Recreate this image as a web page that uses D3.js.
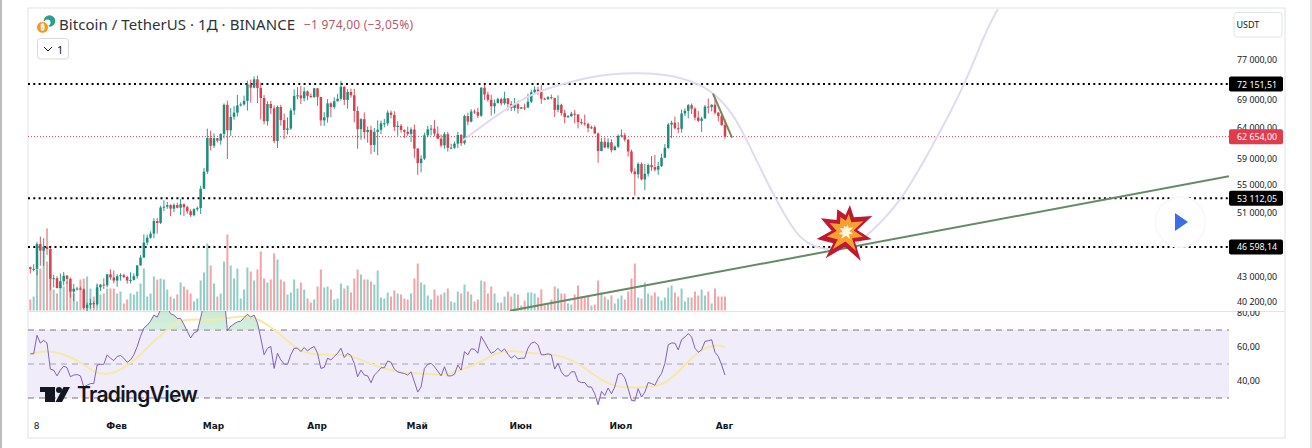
<!DOCTYPE html>
<html>
<head>
<meta charset="utf-8">
<script src="https://cdn.jsdelivr.net/npm/d3@7"></script>
<style>
	body { margin: 0; background: #fff; }
	svg { display: block; }
	text { font-family: "Noto Sans", sans-serif; }
	.axis path, .axis line { display: none; }
</style>
</head>
<body>
<svg id="chart" width="1312" height="448"></svg>
<script>
// one value per day from 6 Jan to 1 Aug, one line per month
const opens = [
	44150,43929,43943,46970,46139,46628,46340,42782,42847,41732,42511,43137,42776,41327,41659,41680,41591,39568,39897,40085,39961,41816,42120,42035,43302,42941,
	42580,43082,43200,42989,42583,42658,43084,44338,45293,47147,47771,48293,49958,49699,51795,51911,52126,51642,52137,51774,52258,51849,51288,50744,51568,51728,54476,57037,62432,
	61130,62387,61987,63113,68245,63724,66074,66823,68124,68313,68955,72078,71452,73072,71388,69499,65300,68393,67609,61937,67840,65501,63797,64037,67211,69880,69988,69455,70744,69892,69645,
	71333,69702,65446,65980,68508,67837,68896,69360,71620,69146,70631,70006,67116,63924,65661,63419,63793,61277,63470,63818,64941,64941,66819,66414,64289,64498,63770,63461,63118,63866,
	60672,58364,59060,62882,63892,64012,63165,62312,61193,63074,60799,60825,61483,62937,61552,66206,65235,67024,66915,66274,71446,70148,69166,67969,68549,69290,68507,69436,68398,67652,68352,
	67540,67766,67765,68809,70568,71082,70757,69355,69310,69648,69508,67321,68243,66747,66006,66191,66639,66490,65140,64960,64828,64096,64245,63180,60277,61806,60864,61706,60427,60986,
	62772,62899,62135,60208,57050,56628,58230,55857,56714,58050,57725,57339,57889,59204,60797,64724,65043,64087,63987,66660,67139,68165,67532,65936,65372,65777,67912,67813,68255,66819,66201,
	64628
];
const highs = [
	44200,44500,47250,47900,47700,48970,46500,43250,43080,43400,43580,43200,42930,42200,41870,41890,41680,40130,40550,40300,42250,42200,42840,43300,43880,43740,
	43300,43420,43380,43120,43540,43400,44370,45590,48200,48170,48590,50330,50370,52040,52820,52570,52250,52370,52480,52985,52370,52060,51550,51700,51960,54900,57590,64000,63680,
	63170,62430,63230,68500,69000,67640,67980,70080,68670,69940,72800,73000,73650,73777,72420,70040,68900,68957,68125,68100,68240,66650,65970,67620,71150,71560,71770,71550,70910,70355,71370,
	71370,69700,66910,69290,68725,69630,70285,72800,71760,71170,71280,71230,67930,65840,66870,64365,64500,64125,65450,65420,65700,67230,67200,67070,65300,64790,63900,64370,64230,64730,
	60780,59600,63320,64500,64650,65500,64390,63020,63420,63470,61490,61820,63450,63100,66450,66800,67450,67400,67700,71515,71980,70670,70100,69220,69560,69560,70690,69500,68920,69500,69020,
	67860,68460,70290,71060,71760,71650,71990,69580,69850,70150,69560,69990,68450,67300,66400,66980,67300,66560,65730,66480,65060,64520,64550,63370,62430,62480,62370,62230,61200,63060,
	63860,63290,62285,60500,57550,58475,58470,58240,58300,59470,59650,58530,59850,61420,65000,65390,66130,65130,67390,67600,68380,68480,67810,67100,66100,68200,69400,68320,70080,66950,66830,
	65600
];
const lows = [
	43400,43650,43200,44300,44300,45600,41500,41800,41700,41700,42050,42200,40680,40280,41450,41500,39430,38555,39480,39540,39820,41400,41620,41800,42680,42270,
	41880,42570,42880,42220,42260,42580,42790,44330,45240,46800,47630,47720,48300,49560,51315,51625,50620,51170,51680,50760,50625,50930,50520,50590,51280,50900,54450,56690,60360,
	60770,61660,61320,62360,59000,62780,65550,66130,67920,68100,67190,68620,71330,68555,65600,64780,64550,66570,61555,60775,64530,62260,63000,63790,66385,69280,68380,68900,69080,69570,69560,
	68060,64500,64490,65060,66010,67490,68850,69040,68210,67520,69560,65090,60660,62135,62270,61640,59770,60100,59600,63080,64230,64500,65810,63600,62800,63320,62400,62780,61760,59190,
	56550,56940,58850,62560,62850,62700,62280,60880,60630,60190,60630,60630,60750,61100,61320,64600,65100,66600,65860,66060,69160,68800,66300,66620,68500,68100,68250,67200,67100,67130,66670,
	67440,67260,67610,68570,70380,70120,68420,69150,69130,69230,66050,66900,66300,64960,65870,66060,64940,64060,64690,64500,63380,63940,63200,58400,60240,60710,60630,60060,60360,60770,
	62500,61800,59400,56770,53485,56020,55725,54260,56290,57160,57050,56540,57770,59200,60630,62400,63900,63220,63300,66220,65800,66570,65440,65120,63440,65750,66650,67060,66480,65300,64530,
	62300
];
const closes = [
	43929,43943,46970,46139,46628,46340,42782,42847,41732,42511,43137,42776,41327,41659,41680,41591,39568,39897,40085,39961,41816,42120,42035,43302,42941,42580,
	43082,43200,42989,42583,42658,43084,44338,45293,47147,47771,48293,49958,49699,51795,51911,52126,51642,52137,51774,52258,51849,51288,50744,51568,51728,54476,57037,62432,61130,
	62387,61987,63113,68245,63724,66074,66823,68124,68313,68955,72078,71452,73072,71388,69499,65300,68393,67609,61937,67840,65501,63797,64037,67211,69880,69988,69455,70744,69892,69645,71333,
	69702,65446,65980,68508,67837,68896,69360,71620,69146,70631,70006,67116,63924,65661,63419,63793,61277,63470,63818,64941,64941,66819,66414,64289,64498,63770,63461,63118,63866,60672,
	58364,59060,62882,63892,64012,63165,62312,61193,63074,60799,60825,61483,62937,61552,66206,65235,67024,66915,66274,71446,70148,69166,67969,68549,69290,68507,69436,68398,67652,68352,67540,
	67766,67765,68809,70568,71082,70757,69355,69310,69648,69508,67321,68243,66747,66006,66191,66639,66490,65140,64960,64828,64096,64245,63180,60277,61806,60864,61706,60427,60986,62772,
	62899,62135,60208,57050,56628,58230,55857,56714,58050,57725,57339,57889,59204,60797,64724,65043,64087,63987,66660,67139,68165,67532,65936,65372,65777,67912,67813,68255,66819,66201,64619,
	62654
];
const volumes = [
	11,14,41,42,64,49,37,21,17,26,24,29,27,17,9,31,32,34,22,14,26,16,17,22,22,22,
	17,19,7,11,17,16,19,27,42,14,17,34,31,32,31,21,14,12,16,28,24,21,17,9,12,30,38,67,45,
	27,14,17,49,76,45,32,42,12,21,43,39,30,41,59,32,28,31,57,51,31,29,16,18,31,22,28,21,12,8,11,
	24,41,23,24,21,11,12,27,22,25,18,32,41,36,31,31,29,26,40,13,12,18,14,20,17,16,12,11,17,32,
	47,28,26,15,11,21,15,16,18,22,9,8,19,17,26,19,16,9,11,30,29,17,24,17,8,8,14,19,14,17,16,
	5,10,18,18,17,13,21,5,6,11,24,22,17,17,7,6,16,25,14,13,14,5,6,30,18,14,11,15,7,12,
	15,11,19,32,47,13,12,28,17,15,18,14,10,13,23,25,18,14,22,9,13,13,19,15,21,15,19,7,22,14,14,
	14
];
const rsi = [
	56,56,66.9,62.3,63.9,62.3,47,46.4,43,46.4,48.8,47.8,42.5,43.5,43.8,43,36.5,37.5,38.5,38.5,49.4,49.8,49.8,55.4,53.4,52,
	54.4,55,53.4,51,52.4,55.4,60.3,66.3,71.2,72.8,75.2,78.8,77.6,82.1,84,83.1,79.6,78.8,76.8,76.8,73.2,69.2,65.3,68.3,69.2,77.2,86,90,87,
	88,87,88,91,69.6,72.2,73.6,74.8,75.2,77.2,79.2,77.6,78.8,74.2,65.3,55.4,59.3,60.3,47.4,56.3,52.4,50,49.8,55.4,59.3,59.3,57.3,59.7,57.7,59.3,60.3,
	56.3,47.4,48,53.4,52.4,54.4,56.3,59.3,53.8,56.3,55,50.4,42.5,46.4,43.5,43,39,43.5,45.4,47.8,47.8,51.8,51,47,45.4,44.8,44.4,43.5,45.4,39.5,
	33.5,36.5,47.4,49.8,50.4,48.4,45.8,43,48.4,43,43,44,49.4,46.4,57.3,55.4,58.9,58.7,56.3,66.3,62.9,59.3,56.3,57.3,59.3,57.3,58.9,55.8,53.4,55,53,
	53.4,53.4,59.3,62.3,62.9,61.3,55.4,55.4,56,55.4,47,50.4,45.4,42.9,43,45.4,45.4,39.9,39.1,39.1,36.5,36.5,32.5,26,33.9,31.5,35.9,32.5,36.5,44,
	44.4,41.9,35.5,28.6,28.2,35.5,30.6,33.5,39.1,38.5,37.5,41.5,44.4,50.4,61.3,62.3,62.3,58.3,64.3,65.9,67.9,65.9,59.3,56.9,58.3,63.3,63.7,64.3,56.9,54.4,49.4,
	43.5
];

const rsiMaDays = [-2,3,8,13,18,23,28,33,38,43,48,53,58,63,68,73,78,83,88,93,98,103,108,113,118,123,128,133,138,143,148,153,158,163,168,173,178,183,188,193,198,203,206];
const rsiMa = [56,58,55.8,51.4,43.5,44.4,49.8,59.7,68.8,76.6,76.2,75.8,77.2,78.8,74.8,67.3,57.9,55.4,55.4,55.8,51.4,48,45.4,44.4,44,43.5,47.4,51,57.3,57.9,56.3,56,54.4,49.4,41.5,36.5,36.1,36.5,37.5,47.4,57.7,61.7,59.9];

// drawings on the chart, days counted from 8 Jan
const arcDays = [127.5,138.6,148.5,158.7,168.6,178.4,188.6,198.5,203.6,208.4,212.9,218,222.5,225.4,228.4,232.9,237.4,243.4,249.4,258.4,267.4,277.8,283.8,287.7];
const arcPrices = [62010,66830,70500,72410,73970,74370,74170,72210,69930,66650,61680,56020,51840,49670,47720,46580,46210,46210,48350,52400,60370,71830,82770,88250];
const trendDays = [141.6,356.9];
const trendPrices = [39260,56320];
const dropDays = [202.4,208.1];
const dropPrices = [70310,62500];
const blastDay = 242.4;
const blastPrice = 48550;

const levels = [72151.51,53112.05,46598.14];
const lastPrice = 62654;
const priceTicks = [77000,69000,64000,59000,55000,51000,47000,43000,40200];
const rsiTicks = [80,60,40];
const rsiBands = [70,50,30];
const monthTicks = ["2024-01-08","2024-02-01","2024-03-01","2024-04-01","2024-05-01","2024-06-01","2024-07-01","2024-08-01"];
const monthLabels = ["8","Фев","Мар","Апр","Май","Июн","Июл","Авг"];

const svgWidth = 1312, svgHeight = 448;
const frameLeft = 28, frameRight = 1285, frameTop = 8, frameBottom = 438;
const paneRight = 1229, paneSplit = 311;

const upColor = "#1b8f7e", downColor = "#d9404f";
const upVolume = "#93cdc7", downVolume = "#f2a5a8";

let svg = d3.select("#chart");
let parseDay = d3.utcParse("%Y-%m-%d");
let startDay = parseDay("2024-01-08");
let dayAt = d => startDay.getTime() + d * 864e5;
let days = closes.map((c, i) => dayAt(i - 2));

let x = d3.scaleUtc().domain([parseDay("2024-01-08"), parseDay("2024-08-01")]).range([37, 725]);
let y = d3.scaleLog().domain([40200, 77000]).range([302, 59.8]);
let yVolume = d3.scaleLinear().domain([0, 76]).range([310.5, 234.5]);
let yRsi = d3.scaleLinear().domain([30, 70]).range([398, 330]);

let defs = svg.append("defs");
defs.append("clipPath").attr("id", "clip-price").append("rect")
	.attr("x", frameLeft).attr("y", frameTop + 1).attr("width", paneRight - frameLeft).attr("height", paneSplit - frameTop - 1);
defs.append("clipPath").attr("id", "clip-rsi").append("rect")
	.attr("x", frameLeft).attr("y", paneSplit).attr("width", paneRight - frameLeft).attr("height", frameBottom - paneSplit);
defs.append("clipPath").attr("id", "clip-over").append("rect")
	.attr("x", frameLeft).attr("y", paneSplit).attr("width", paneRight - frameLeft).attr("height", yRsi(70) - paneSplit);
defs.append("clipPath").attr("id", "clip-under").append("rect")
	.attr("x", frameLeft).attr("y", yRsi(30)).attr("width", paneRight - frameLeft).attr("height", 20);
defs.append("clipPath").attr("id", "clip-axis-rsi").append("rect")
	.attr("x", paneRight).attr("y", paneSplit).attr("width", frameRight - paneRight).attr("height", frameBottom - paneSplit);

let overGrad = defs.append("linearGradient").attr("id", "over-grad").attr("x1", 0).attr("x2", 0).attr("y1", 0).attr("y2", 1);
overGrad.append("stop").attr("offset", "0%").attr("stop-color", "#8fd3a8").attr("stop-opacity", 0.55);
overGrad.append("stop").attr("offset", "100%").attr("stop-color", "#8fd3a8").attr("stop-opacity", 0.02);
let underGrad = defs.append("linearGradient").attr("id", "under-grad").attr("x1", 0).attr("x2", 0).attr("y1", 0).attr("y2", 1);
underGrad.append("stop").attr("offset", "0%").attr("stop-color", "#f0a0a0").attr("stop-opacity", 0.05);
underGrad.append("stop").attr("offset", "100%").attr("stop-color", "#f0a0a0").attr("stop-opacity", 0.4);

// page edges and frame
svg.append("rect").attr("x", 0).attr("y", 0).attr("width", 2).attr("height", svgHeight).attr("fill", "#bdbdbd");
svg.append("rect").attr("x", 1310).attr("y", 0).attr("width", 2).attr("height", svgHeight).attr("fill", "#e4e4e4");
svg.append("rect").attr("x", frameLeft).attr("y", frameTop).attr("width", frameRight - frameLeft).attr("height", frameBottom - frameTop)
	.attr("fill", "#fff").attr("stroke", "#e0e3eb");
svg.append("line").attr("x1", frameLeft).attr("x2", frameRight).attr("y1", paneSplit + 0.5).attr("y2", paneSplit + 0.5).attr("stroke", "#e0e3eb");

let pricePane = svg.append("g").attr("clip-path", "url(#clip-price)");

// volume
pricePane.append("g").selectAll("rect")
	.data(volumes)
	.join("rect")
	.attr("x", (d, i) => x(days[i]) - 1)
	.attr("y", d => yVolume(d))
	.attr("width", 2)
	.attr("height", d => yVolume(0) - yVolume(d))
	.attr("fill", (d, i) => closes[i] >= opens[i] ? upVolume : downVolume);

// levels
pricePane.append("g").selectAll("line")
	.data(levels)
	.join("line")
	.attr("x1", frameLeft).attr("x2", paneRight)
	.attr("y1", d => y(d)).attr("y2", d => y(d))
	.attr("stroke", "#000").attr("stroke-width", 2).attr("stroke-dasharray", "2 3.3");
pricePane.append("line")
	.attr("x1", frameLeft).attr("x2", paneRight)
	.attr("y1", y(lastPrice)).attr("y2", y(lastPrice))
	.attr("stroke", "#d9404f").attr("stroke-dasharray", "1 2");

// candles
let candles = pricePane.append("g").selectAll("g")
	.data(closes)
	.join("g")
	.attr("fill", (d, i) => d >= opens[i] ? upColor : downColor)
	.attr("stroke", (d, i) => d >= opens[i] ? upColor : downColor);
candles.append("line")
	.attr("x1", (d, i) => x(days[i])).attr("x2", (d, i) => x(days[i]))
	.attr("y1", (d, i) => y(highs[i])).attr("y2", (d, i) => y(lows[i]))
	.attr("stroke-width", 0.9);
candles.append("rect")
	.attr("x", (d, i) => x(days[i]) - 1.25)
	.attr("y", (d, i) => y(Math.max(d, opens[i])))
	.attr("width", 2.5)
	.attr("height", (d, i) => Math.max(1, Math.abs(y(d) - y(opens[i]))))
	.attr("stroke", "none");

// drawings
let drawLine = d3.line().x(d => x(dayAt(d[0]))).y(d => y(d[1]));
pricePane.append("path")
	.attr("d", drawLine.curve(d3.curveBasis)(d3.zip(arcDays, arcPrices)))
	.attr("fill", "none").attr("stroke", "#dedcf0").attr("stroke-width", 2);
drawLine.curve(d3.curveLinear);
pricePane.append("path")
	.attr("d", drawLine(d3.zip(trendDays, trendPrices)))
	.attr("fill", "none").attr("stroke", "#668a66").attr("stroke-width", 2);
pricePane.append("path")
	.attr("d", drawLine(d3.zip(dropDays, dropPrices)))
	.attr("fill", "none").attr("stroke", "#77885a").attr("stroke-width", 2);

// the blast sticker
const blastShape = [[3.3,-26.7],[7.3,-14.3],[25.7,-15.7],[10.7,-1.7],[25,7.7],[8.3,10],[14.3,29.3],[-1.7,15],[-21,26.7],[-13.3,11.7],[-30,7.3],[-15,-1],[-25.7,-13.3],[-10,-11.7],[-9.3,-22.3],[-1,-16.7]];
let blast = svg.append("g").attr("transform", "translate(" + x(dayAt(blastDay)) + "," + y(blastPrice) + ")");
let blastPath = k => d3.line()(blastShape.map(p => [p[0] * k, p[1] * k])) + "Z";
blast.append("path").attr("d", blastPath(1)).attr("fill", "#be1931");
blast.append("path").attr("d", blastPath(0.66)).attr("fill", "#f8a030");
blast.append("path").attr("d", blastPath(0.27)).attr("fill", "#fff6e0");

// rsi pane
let rsiPane = svg.append("g").attr("clip-path", "url(#clip-rsi)");
rsiPane.append("rect")
	.attr("x", frameLeft).attr("width", paneRight - frameLeft)
	.attr("y", yRsi(70)).attr("height", yRsi(30) - yRsi(70))
	.attr("fill", "#f0ecf9");
rsiPane.append("g").selectAll("line")
	.data(rsiBands)
	.join("line")
	.attr("x1", frameLeft).attr("x2", paneRight)
	.attr("y1", d => yRsi(d)).attr("y2", d => yRsi(d))
	.attr("stroke", d => d == 50 ? "#a8a2b8" : "#77747f")
	.attr("stroke-dasharray", "6 5");

let rsiLine = d3.line().x((d, i) => x(days[i])).y(d => yRsi(d));
rsiPane.append("path").attr("clip-path", "url(#clip-over)")
	.attr("d", d3.area().x((d, i) => x(days[i])).y0(yRsi(70)).y1(d => yRsi(d))(rsi))
	.attr("fill", "url(#over-grad)");
rsiPane.append("path").attr("clip-path", "url(#clip-under)")
	.attr("d", d3.area().x((d, i) => x(days[i])).y0(yRsi(30)).y1(d => yRsi(d))(rsi))
	.attr("fill", "url(#under-grad)");
rsiPane.append("path")
	.attr("d", d3.line().x(d => x(dayAt(d[0]))).y(d => yRsi(d[1])).curve(d3.curveBasis)(d3.zip(rsiMaDays, rsiMa)))
	.attr("fill", "none").attr("stroke", "#f6e9a8").attr("stroke-width", 2);
rsiPane.append("path")
	.attr("d", rsiLine(rsi))
	.attr("fill", "none").attr("stroke", "#7e64b8").attr("stroke-width", 1);

// axes
let ruLocale = d3.formatLocale({decimal: ",", thousands: " ", grouping: [3], currency: ["", ""]});
let priceFormat = ruLocale.format(",.2f");

let priceAxis = svg.append("g").attr("class", "axis")
	.attr("transform", "translate(1237,-0.8)")
	.call(d3.axisRight(y).tickValues(priceTicks).tickSize(0).tickPadding(0).tickFormat(priceFormat));
priceAxis.selectAll("text").attr("font-size", 9.5).attr("fill", "#131722")
	.attr("textLength", 40).attr("lengthAdjust", "spacingAndGlyphs");

let rsiAxis = svg.append("g").attr("class", "axis")
	.attr("clip-path", "url(#clip-axis-rsi)")
	.append("g")
	.attr("transform", "translate(1237,-1)")
	.call(d3.axisRight(yRsi).tickValues(rsiTicks).tickSize(0).tickPadding(0).tickFormat(priceFormat));
rsiAxis.selectAll("text").attr("font-size", 9.5).attr("fill", "#131722")
	.attr("textLength", 23).attr("lengthAdjust", "spacingAndGlyphs");

let timeAxis = svg.append("g").attr("class", "axis")
	.attr("transform", "translate(-1,423)")
	.call(d3.axisBottom(x).tickValues(monthTicks.map(parseDay)).tickSize(0).tickPadding(0)
		.tickFormat((d, i) => monthLabels[i]));
timeAxis.selectAll("text")
	.attr("font-size", 9)
	.attr("font-weight", (d, i) => i == 0 ? 400 : 700)
	.attr("fill", "#131722")
	.style("font-family", "'DejaVu Sans'");

// price labels on the right
let tags = levels.map(d => ({price: d, fill: "#000"})).concat([{price: lastPrice, fill: "#e23b4e"}]);
let tag = svg.append("g").selectAll("g")
	.data(tags)
	.join("g")
	.attr("transform", d => "translate(1229," + y(d.price) + ")");
tag.append("rect").attr("x", 0).attr("y", -7.5).attr("width", 54).attr("height", 15).attr("rx", 2).attr("fill", d => d.fill);
tag.append("text").attr("x", 8).attr("y", 3.5).attr("font-size", 9.5).attr("fill", "#fff")
	.attr("textLength", 40).attr("lengthAdjust", "spacingAndGlyphs")
	.text(d => priceFormat(d.price));

// currency button
svg.append("rect").attr("x", 1234).attr("y", 12.5).attr("width", 48).attr("height", 24.5).attr("rx", 3)
	.attr("fill", "#fff").attr("stroke", "#e0e3eb");
svg.append("text").attr("x", 1236.5).attr("y", 28).attr("font-size", 9).attr("fill", "#131722").text("USDT");

// header
let coin = svg.append("g");
coin.append("circle").attr("cx", 49.5).attr("cy", 21).attr("r", 5.8).attr("fill", "#2a9d95");
coin.append("circle").attr("cx", 47.5).attr("cy", 22.5).attr("r", 3).attr("fill", "#fff");
coin.append("circle").attr("cx", 42.5).attr("cy", 27.3).attr("r", 6).attr("fill", "#ef9a2c").attr("stroke", "#fff");
coin.append("text").attr("x", 42.5).attr("y", 30).attr("text-anchor", "middle").attr("font-size", 8).attr("font-weight", 700).attr("fill", "#fff").text("₿");
svg.append("text").attr("x", 59).attr("y", 30).attr("font-size", 15).attr("fill", "#2e3238")
	.attr("textLength", 236).text("Bitcoin / TetherUS · 1Д · BINANCE");
svg.append("text").attr("x", 304).attr("y", 29).attr("font-size", 12).attr("fill", "#b9586a")
	.attr("textLength", 109).text("−1 974,00 (−3,05%)");
svg.append("rect").attr("x", 37.5).attr("y", 38.5).attr("width", 31).attr("height", 20.5).attr("rx", 3)
	.attr("fill", "#fff").attr("stroke", "#d8dae0");
svg.append("path").attr("d", "M44 47 L48 51 L52 47").attr("fill", "none").attr("stroke", "#131722");
svg.append("text").attr("x", 57).attr("y", 54).attr("font-size", 11).attr("fill", "#131722").text("1");

// play button
svg.append("circle").attr("cx", 1180.5).attr("cy", 222).attr("r", 25).attr("fill", "#fefefe").attr("stroke", "#f9f9fb").attr("stroke-width", 2);
svg.append("path").attr("d", "M1175 213 L1188 222 L1175 231 Z").attr("fill", "#3c6ee8");

// tradingview mark
let logo = svg.append("g").attr("fill", "#131722");
logo.append("path").attr("d", "M40 387 H55 V402 H45 V392 H40 Z");
logo.append("circle").attr("cx", 59).attr("cy", 390).attr("r", 3);
logo.append("path").attr("d", "M63.5 387 H70 L62 402 H55.5 Z");
logo.append("text").attr("x", 77).attr("y", 402).attr("font-size", 21).attr("font-weight", 600)
	.style("font-family", "Inter").attr("textLength", 121).text("TradingView");
</script>
</body>
</html>
